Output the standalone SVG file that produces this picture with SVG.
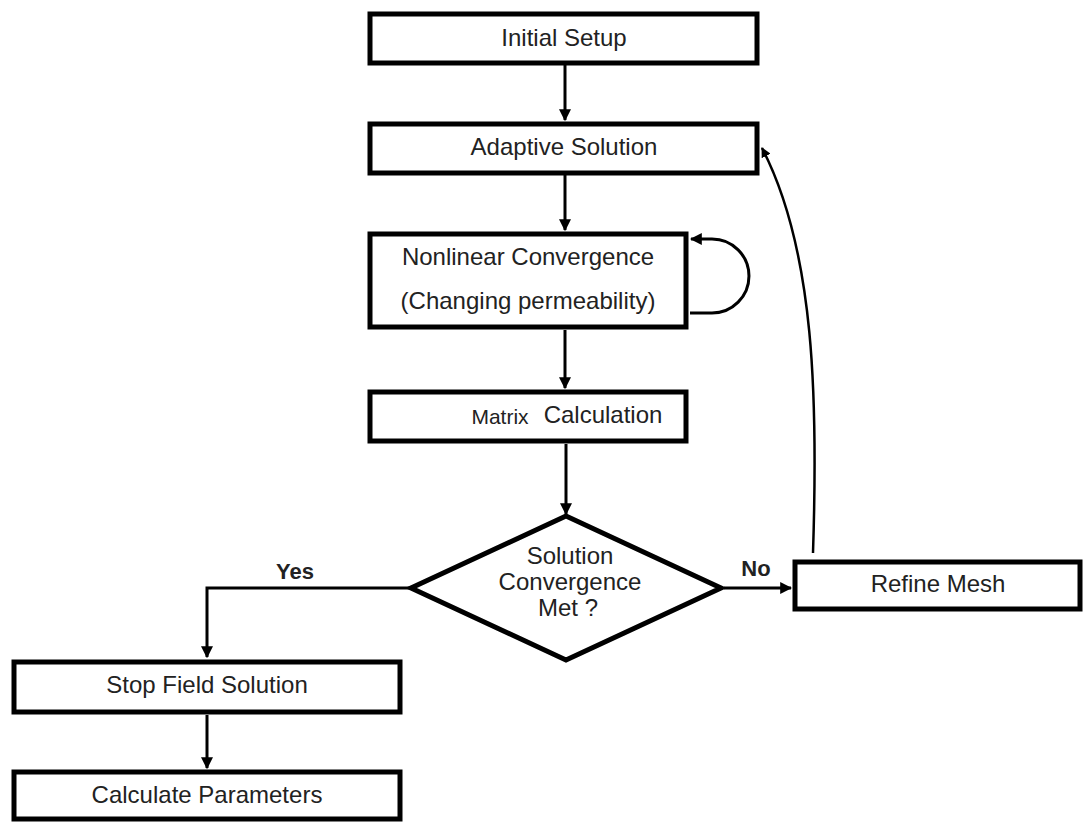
<svg xmlns="http://www.w3.org/2000/svg" width="1083" height="823" viewBox="0 0 1083 823">
<style>
.box{fill:#fff;stroke:#000;stroke-width:5}
.t{font-family:"Liberation Sans",Arial,sans-serif;font-size:24px;fill:#222;text-anchor:middle}
.lbl{font-family:"Liberation Sans",Arial,sans-serif;font-size:22px;font-weight:bold;fill:#222;text-anchor:middle}
.c{fill:none;stroke:#000;stroke-width:3}
.cv{fill:none;stroke:#000;stroke-width:2.5}
</style>
<defs>
<marker id="ah" viewBox="0 0 10 10" refX="9" refY="5" markerWidth="4" markerHeight="4" orient="auto" markerUnits="strokeWidth">
<path d="M0,0 L10,5 L0,10 z" fill="#000"/>
</marker>
</defs>
<rect width="1083" height="823" fill="#fff"/>
<g id="connectors">
<line class="c" x1="565" y1="64" x2="565" y2="120" marker-end="url(#ah)"/>
<line class="c" x1="565" y1="175" x2="565" y2="230" marker-end="url(#ah)"/>
<path class="c" d="M690 313 L712 313 A37 37 0 0 0 712 239 L691 239" marker-end="url(#ah)"/>
<line class="c" x1="565" y1="330" x2="565" y2="388" marker-end="url(#ah)"/>
<line class="c" x1="566" y1="444" x2="566" y2="514" marker-end="url(#ah)"/>
<line class="c" x1="724" y1="588" x2="791" y2="588" marker-end="url(#ah)"/>
<path class="cv" d="M813 553 C818 400 815 250 762 148" marker-end="url(#ah)"/>
<path class="c" d="M410 588 L207 588 L207 657" marker-end="url(#ah)"/>
<line class="c" x1="207" y1="715" x2="207" y2="768" marker-end="url(#ah)"/>
<text class="lbl" x="756" y="576">No</text>
<text class="lbl" x="295" y="579">Yes</text>
</g>
<g id="initial-setup">
<rect class="box" x="370" y="14" width="387" height="49"/>
<text class="t" x="564" y="46">Initial Setup</text>
</g>
<g id="adaptive-solution">
<rect class="box" x="370" y="124" width="387" height="49"/>
<text class="t" x="564" y="155">Adaptive Solution</text>
</g>
<g id="nonlinear-convergence">
<rect class="box" x="370" y="234" width="316" height="93"/>
<text class="t" x="528" y="265">Nonlinear Convergence</text>
<text class="t" x="528" y="309">(Changing permeability)</text>
</g>
<g id="matrix-calculation">
<rect class="box" x="370" y="392" width="316" height="49"/>
<text class="t" x="500" y="424" style="font-size:21px">Matrix</text>
<text class="t" x="603" y="423">Calculation</text>
</g>
<g id="decision">
<polygon points="566,516 721,588 566,660 411,588" fill="#fff" stroke="#000" stroke-width="5" stroke-linejoin="miter"/>
<text class="t" x="570" y="564">Solution</text>
<text class="t" x="570" y="590">Convergence</text>
<text class="t" x="568" y="616">Met ?</text>
</g>
<g id="refine-mesh">
<rect class="box" x="795" y="562" width="285" height="47"/>
<text class="t" x="938" y="592">Refine Mesh</text>
</g>
<g id="stop-field-solution">
<rect class="box" x="14" y="662" width="386" height="50"/>
<text class="t" x="207" y="693">Stop Field Solution</text>
</g>
<g id="calculate-parameters">
<rect class="box" x="14" y="772" width="386" height="47"/>
<text class="t" x="207" y="803">Calculate Parameters</text>
</g>
</svg>
